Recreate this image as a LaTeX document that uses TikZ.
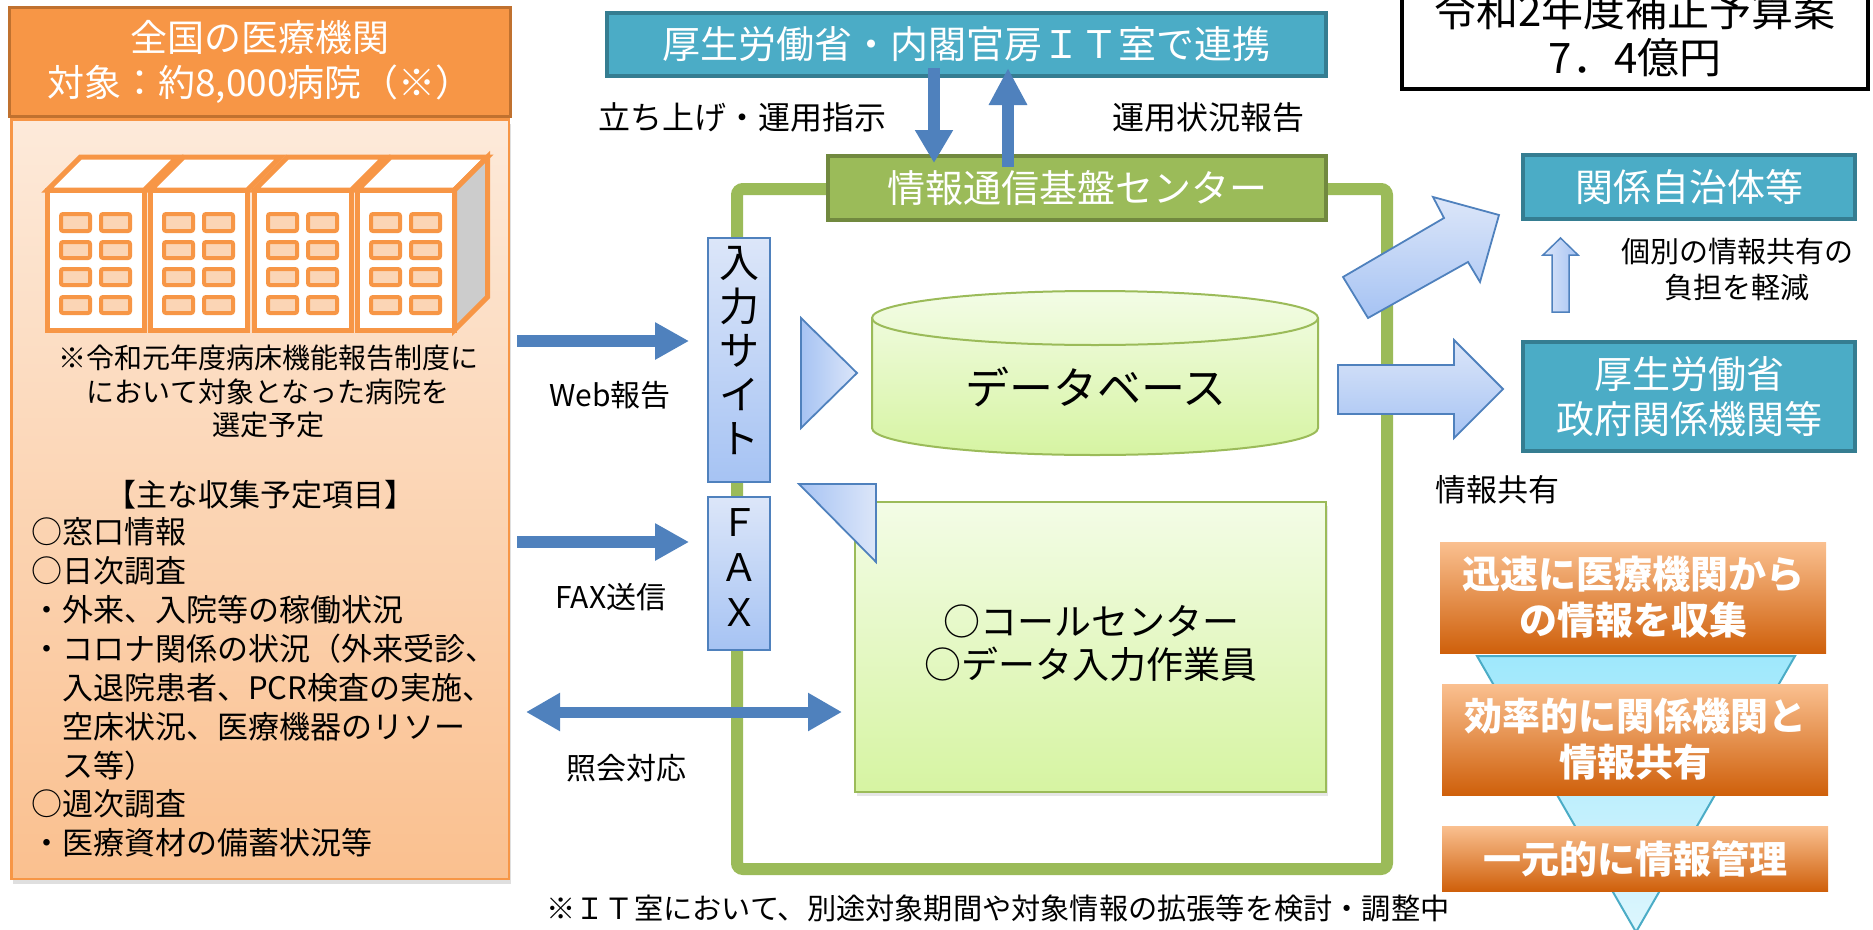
\documentclass[tikz,border=0pt]{standalone}
\usepackage{fontspec}
\setmainfont{Noto Sans CJK JP}
\usetikzlibrary{arrows.meta,shadows,calc}
\definecolor{orgA}{HTML}{F79646}
\definecolor{orgB}{HTML}{C0712F}
\definecolor{peachT}{HTML}{FDEADA}
\definecolor{peachB}{HTML}{FAC08F}
\definecolor{winF}{HTML}{FBD5B5}
\definecolor{tealF}{HTML}{4BACC6}
\definecolor{tealD}{HTML}{357D91}
\definecolor{grnF}{HTML}{9BBB59}
\definecolor{grnD}{HTML}{71893F}
\definecolor{arrB}{HTML}{4F81BD}
\definecolor{lbT}{HTML}{DCE6F9}
\definecolor{lbB}{HTML}{A6C3F3}
\definecolor{dbT}{HTML}{F3FCE6}
\definecolor{dbB}{HTML}{D6F4A2}
\definecolor{fnT}{HTML}{9FE8FC}
\definecolor{fnB}{HTML}{DDF6FD}
\definecolor{obT}{HTML}{FAC090}
\definecolor{obM}{HTML}{F79646}
\definecolor{obB}{HTML}{CF600B}
\definecolor{sideG}{HTML}{CCCCCC}
\newcommand{\jfs}[2]{\fontsize{#1}{#2}\selectfont}
\begin{document}
\begin{tikzpicture}[x=1pt,y=-1pt,
  tealbox/.style={draw=tealD, fill=tealF, line width=4pt, text=white, inner sep=0pt, font=\jfs{38}{45}, align=center},
  grnbox/.style={draw=grnD, fill=grnF, line width=4pt, text=white, inner sep=0pt, font=\jfs{38}{45}},
  lbbox/.style={draw=arrB, line width=1.8pt, top color=lbT, bottom color=lbB, inner sep=0pt},
  lbshape/.style={draw=arrB, line width=1.8pt, top color=lbT, bottom color=lbB},
  thickarr/.style={draw=arrB, line width=12pt, -{Triangle[width=36pt,length=33pt]}},
  dblarr/.style={draw=arrB, line width=11pt, {Triangle[width=36pt,length=34pt]}-{Triangle[width=36pt,length=34pt]}},
  lbl/.style={font=\jfs{31}{38}, inner sep=0pt},
  orgbox/.style={top color=obT, middle color=obM, bottom color=obB, draw=none, text=white, font=\bfseries\jfs{38}{46}, align=center, inner sep=0pt},
  bldg/.style={draw=orgA, line width=5pt, fill=white, line join=miter},
  win/.style={draw=orgA, line width=4pt, fill=winF, rounded corners=2pt}
]
\useasboundingbox (0,0) rectangle (1873,929);

% ---------- left panel ----------
\node[draw=orgA, line width=2.5pt, top color=peachT, bottom color=peachB,
      minimum width=497.5pt, minimum height=759.5pt,
      drop shadow={opacity=0.25,shadow xshift=2pt,shadow yshift=-5pt}] (body) at (260,499) {};
\node[draw=orgB, line width=3pt, fill=orgA, minimum width=501pt, minimum height=109pt,
      text=white, font=\jfs{37}{45}, align=center, inner sep=0pt] (hdr) at (260,62)
      {全国の医療機関\\対象：約8,000病院（※）};

% buildings
\foreach \a/\last in {45/0,148/0,252/0,355/1}{
  \draw[bldg] (\a+2.5,190) -- (\a+35.5,157) -- (\a+132.5,157) -- (\a+99.5,190) -- cycle;
  \ifnum\last=1
    \draw[bldg, fill=sideG] (\a+99.5,190) -- (\a+132.5,157) -- (\a+132.5,297) -- (\a+99.5,330) -- cycle;
  \fi
  \draw[bldg] (\a+2.5,190) rectangle (\a+99.5,330);
  \foreach \ya/\yb in {214/231,242/258,269/285,297/313}{
    \draw[win] (\a+16,\ya) rectangle (\a+45,\yb);
    \draw[win] (\a+56,\ya) rectangle (\a+85,\yb);
  }
}

\node[font=\jfs{28}{33.5}, align=center, inner sep=0pt] (bnote) at (268,391.5)
  {※令和元年度病床機能報告制度に\\において対象となった病院を\\選定予定};
\node[font=\jfs{31}{38}, inner sep=0pt] (ihead) at (260,495) {【主な収集予定項目】};
\node[font=\jfs{31}{38.9}, align=left, anchor=west, inner sep=0pt] (items) at (31,687.5)
  {○窓口情報\\○日次調査\\・外来、入院等の稼働状況\\・コロナ関係の状況（外来受診、\\　入退院患者、PCR検査の実施、\\　空床状況、医療機器のリソー\\　ス等）\\○週次調査\\・医療資材の備蓄状況等};

% ---------- centre ----------
\node[draw=grnF, line width=12pt, rounded corners=6pt, minimum width=650pt, minimum height=680pt] (frame) at (1062,529) {};

\node[tealbox, minimum width=719pt, minimum height=63pt] (mhlw) at (966.5,44.5) {厚生労働省・内閣官房ＩＴ室で連携};
\node[grnbox, minimum width=498pt, minimum height=64pt] (ictc) at (1077,188) {情報通信基盤センター};

\draw[thickarr] ([xshift=-32.5pt,yshift=10pt]mhlw.south) -- ([xshift=-143pt,yshift=-9pt]ictc.north);
\draw[thickarr, -{Triangle[width=36pt,length=37pt]}] ([xshift=-69pt,yshift=-13pt]ictc.north) -- ([xshift=41.5pt,yshift=10pt]mhlw.south);

\node[lbl, font=\jfs{32}{38}] (l1) at (742,117) {立ち上げ・運用指示};
\node[lbl, font=\jfs{32}{38}] (l2) at (1208,117) {運用状況報告};

% input site / fax
\node[lbbox, minimum width=62pt, minimum height=244pt] (site) at (739,360) {};
\node[font=\jfs{40}{44}, align=center, inner sep=0pt] (sitet) at (739,351) {入\\力\\サ\\イ\\ト};
\node[lbbox, minimum width=62pt, minimum height=153pt] (fax) at (739,573.5) {};
\node[font=\jfs{38}{45}, align=center, inner sep=0pt] (faxt) at (739,568) {Ｆ\\Ａ\\Ｘ};

% call centre box
\node[draw=grnF, line width=2pt, top color=dbT, bottom color=dbB, minimum width=471pt, minimum height=290pt,
      drop shadow={opacity=0.2,shadow xshift=2pt,shadow yshift=-4pt}] (cc) at (1090.5,647) {};
\node[font=\jfs{37}{43}, align=center, inner sep=0pt] (cct) at (1091,643.5) {○コールセンター\\○データ入力作業員};

% arrows from the left
\coordinate (webs) at (517,341);
\coordinate (faxs) at (517,542);
\coordinate (qs) at (526,712);
\draw[thickarr, -{Triangle[width=35pt,length=34pt]}] (webs) -- ($(webs -| site.west)+(-18,0)$);
\draw[thickarr, -{Triangle[width=35pt,length=34pt]}] (faxs) -- ($(faxs -| fax.west)+(-18,0)$);
\draw[dblarr] (qs) -- ($(qs -| cc.west)+(-12,0)$);

\node[lbl, font=\jfs{30}{36}] (lweb) at (610,395) {Web報告};
\node[lbl, font=\jfs{30}{36}] (lfax) at (611,597) {FAX送信};
\node[lbl, font=\jfs{30}{36}] (lq) at (626,768) {照会対応};

% triangles
\draw[draw=arrB, line width=1.8pt, left color=lbB, right color=lbT] (801,318) -- (801,428) -- (857,373) -- cycle;
\draw[draw=arrB, line width=1.8pt, left color=lbB, right color=lbT] (799,484) -- (876,484) -- (876,562) -- cycle;

% database
\draw[draw=grnF, line width=2pt, top color=dbT, bottom color=dbB]
  (872,318) -- (872,428) arc[start angle=180, end angle=360, x radius=223pt, y radius=27pt]
  -- (1318,318) arc[start angle=0, end angle=180, x radius=223pt, y radius=27pt] -- cycle;
\draw[grnF, line width=2pt] (872,318) arc[start angle=180, end angle=360, x radius=223pt, y radius=27pt];
\node[font=\jfs{44}{50}, inner sep=0pt] (db) at (1096,387) {データベース};

% ---------- right ----------
\node[tealbox, minimum width=332pt, minimum height=64pt] (lg) at (1689,187) {関係自治体等};
\node[tealbox, minimum width=332pt, minimum height=109pt] (gov) at (1689,396.5) {厚生労働省\\政府関係機関等};

\draw[lbshape] (1343,277) -- (1368,318) -- (1468,262) -- (1480,282) -- (1499,215) -- (1433,197) -- (1444,218) -- cycle;
\draw[lbshape] (1338,365) -- (1454,365) -- (1454,340) -- (1503,389) -- (1454,438) -- (1454,414) -- (1338,414) -- cycle;
\draw[draw=arrB, line width=1.5pt, left color=lbT, right color=lbB]
  (1552,312) -- (1552,255) -- (1543,255) -- (1560.5,238) -- (1578,255) -- (1569,255) -- (1569,312) -- cycle;

\node[font=\jfs{29}{36}, align=center, inner sep=0pt] (lshare) at (1737,270) {個別の情報共有の\\負担を軽減};
\node[lbl] (linfo) at (1497,490) {情報共有};

% budget box
\node[draw=black, line width=4.3pt, minimum width=466pt, minimum height=130pt] (bud) at (1635,24) {};
\node[font=\jfs{42}{47}, align=center, inner sep=0pt] (budt) at (1635,33.5) {令和2年度補正予算案\\7．4億円};

% funnel
\draw[draw=tealF, line width=2pt, top color=fnT, bottom color=fnB] (1477,656) -- (1795,656) -- (1636,932) -- cycle;
\node[orgbox, minimum width=386pt, minimum height=111pt] (o1) at (1633,597.5) {迅速に医療機関から\\の情報を収集};
\node[orgbox, minimum width=386pt, minimum height=111pt] (o2) at (1635,739.5) {効率的に関係機関と\\情報共有};
\node[orgbox, minimum width=386pt, minimum height=65pt] (o3) at (1635,858.5) {一元的に情報管理};

% bottom note
\node[font=\jfs{29.2}{34}, inner sep=0pt] (note) at (998,908) {※ＩＴ室において、別途対象期間や対象情報の拡張等を検討・調整中};
\end{tikzpicture}
\end{document}
